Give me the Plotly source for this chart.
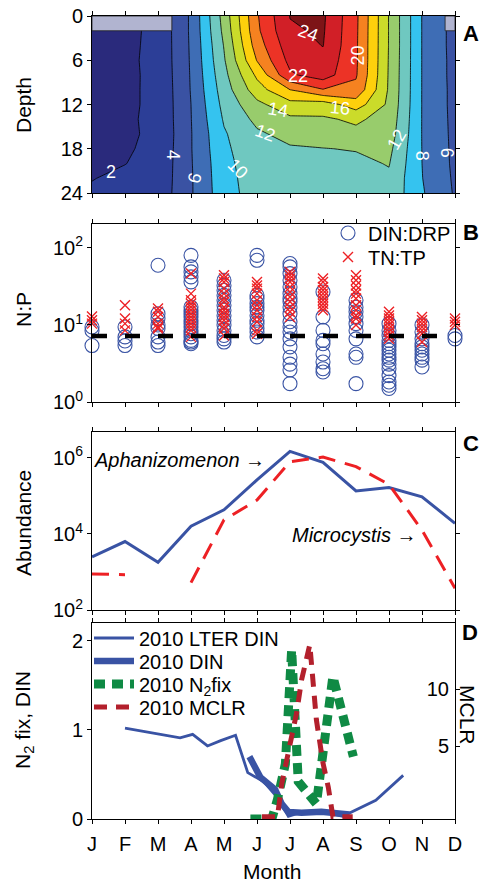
import plotly.graph_objects as go

FONT = "Liberation Sans, Arial, Helvetica, sans-serif"
W, H = 485, 883

# ---------------- common x ----------------
MONTHS = [1, 2, 3, 4, 5, 6, 7, 8, 9, 10, 11, 12]
MONTH_LABELS = ["J", "F", "M", "A", "M", "J", "J", "A", "S", "O", "N", "D"]

# ---------------- Panel A: temperature (depth x month) ----------------
DEPTHS = [0, 2, 4, 6, 8, 10, 12, 14, 16, 18, 20, 22, 24]
TEMP = [
    [0.5, 1.5, 2.4, 6.3, 12.8, 19.8, 24.05, 24.3, 20.4, 13.9, 7.95, 5.3],
    [1.0, 1.6, 2.4, 6.3, 12.5, 19.6, 23.8, 24.2, 20.35, 13.9, 7.95, 5.3],
    [1.2, 1.65, 2.4, 6.25, 12.1, 19.0, 23.2, 24.05, 20.3, 13.9, 7.95, 5.3],
    [1.3, 1.7, 2.4, 6.2, 11.8, 18.1, 22.6, 23.5, 20.3, 13.85, 7.95, 5.35],
    [1.4, 1.7, 2.35, 6.15, 11.4, 16.4, 21.7, 23.0, 20.2, 13.8, 7.95, 5.35],
    [1.4, 1.75, 2.3, 6.1, 11.0, 15.1, 18.0, 19.9, 19.5, 13.75, 7.95, 5.4],
    [1.5, 1.75, 2.3, 6.0, 10.6, 13.5, 15.3, 15.0, 17.0, 13.6, 7.95, 5.4],
    [1.5, 1.8, 2.3, 5.95, 10.2, 12.5, 13.6, 13.75, 14.3, 13.3, 7.95, 5.45],
    [1.6, 1.8, 2.25, 5.9, 9.8, 11.7, 12.6, 12.9, 13.55, 13.0, 7.95, 5.5],
    [1.6, 1.85, 2.35, 5.9, 9.6, 11.4, 11.8, 11.95, 12.1, 12.5, 7.97, 5.55],
    [1.7, 1.97, 2.5, 5.85, 9.4, 11.2, 11.4, 11.7, 11.6, 12.1, 8.0, 5.6],
    [1.95, 2.3, 2.6, 5.8, 9.3, 11.0, 11.2, 11.4, 11.3, 11.7, 8.05, 5.7],
    [2.2, 2.5, 2.7, 5.8, 9.2, 10.9, 11.1, 11.2, 11.1, 11.5, 8.2, 5.8],
]
CONTOUR_START, CONTOUR_END, CONTOUR_STEP = 2, 24, 2
BAND_COLORS = ["#2a2a7c", "#2c3e97", "#3a52a3", "#3e6db5", "#35c3ef", "#6fc8c0",
               "#98cc6c", "#cbdb2a", "#fdd00c", "#f58220", "#ec3326", "#d11f27", "#7d1417"]

ICE_START = [1.0, 11.7]
ICE_END = [3.42, 12.0]
ICE_DEPTH = 2.0

CLABEL_TEXT = ["2", "4", "6", "10", "12", "14", "16", "22", "24", "20", "12", "8", "6"]
CLABEL_MONTH = [1.59, 3.46, 4.12, 5.43, 6.24, 6.65, 8.52, 7.25, 7.55, 9.07, 10.23, 10.99, 11.75]
CLABEL_DEPTH = [21.1, 18.85, 22.0, 20.7, 15.9, 12.7, 12.5, 8.2, 2.35, 5.3, 16.8, 18.9, 18.5]
CLABEL_ANGLE = [0, 90, -75, 45, 20, 10, 5, 0, 20, -90, -60, 90, 90]

# ---------------- Panel B: N:P ratios ----------------
DIN_DRP = [
    [9.4, 8.4, 5.4],
    [9.4, 7.0, 6.2, 5.4],
    [59.5, 14, 12.1, 10, 9, 7, 6, 5.4],
    [80, 56.7, 48.8, 42, 36.2, 17.1, 15.5, 14, 12.7, 11.5, 10.4, 9.4, 8.5, 7.7, 7, 6.3, 6.0, 5.7],
    [38, 32.6, 28.2, 24.2, 20.9, 18, 15.5, 13.3, 11.5, 10, 8.5, 7.3, 6.6, 6],
    [80, 69, 24.2, 22, 18.9, 17, 15.5, 13.3, 11.5, 10.4, 9, 8.1, 7],
    [62.6, 56.7, 46.4, 38, 31, 25.5, 22, 20, 17, 14, 11, 9.4, 8.1, 6.6, 5.2, 3.8, 3.1, 2.6, 1.73],
    [26.8, 12.7, 8.5, 6.3, 5.7, 4.2, 3.3, 2.7, 2.45],
    [20.9, 17, 14.8, 12.7, 10.4, 8.5, 6.6, 4.2, 3.8, 1.73],
    [10.4, 8.5, 7.3, 6.3, 5.7, 5.2, 4.7, 4.2, 3.8, 3.5, 3.1, 2.7, 2.2, 1.82, 1.65, 1.5],
    [10, 8.1, 6.6, 5.7, 5.2, 4.7, 4.2, 3.8, 3.5, 2.85],
    [7.3, 6.6],
]
TN_TP = [
    [12.9, 11.5, 10.4],
    [18, 12.1, 10.4, 8.5],
    [16.3, 14.8, 12.7, 10.4, 9.4, 9],
    [46.4, 25.5, 20.9, 18.9, 17.1, 15.5, 14, 12.7, 11.5, 10.4, 9.4, 8.5, 7],
    [44, 40, 36, 29.6, 25.5, 22, 20, 17, 15.5, 14, 12.7, 11.5, 10, 9, 7.3],
    [36, 32.6, 29.6, 25.5, 20.9, 18, 15.5, 12.7, 11, 8.5, 7.7],
    [48.8, 44, 40, 36, 31, 26.8, 23, 20, 17, 14.8, 12.7],
    [40, 36, 31, 28.2, 25.5, 23, 20.9, 18.9, 17.1, 15.5],
    [44, 38, 32.6, 28.2, 25.5, 22, 18, 15.5, 13.3, 12.1, 10],
    [14.8, 13.3, 12.1, 11, 10, 9, 8.1, 7.3, 6.6],
    [12.7, 11.5, 10.4, 9.4, 8.5, 7.7, 6.0],
    [12.1, 11, 10],
]
REDFIELD = 7.2

# ---------------- Panel C: abundance ----------------
APHANIZOMENON = [2500, 6300, 1800, 16000, 43000, 263000, 1480000, 760000, 135000, 166000, 95000, 19000]
MICROCYSTIS = [890, 850, None, 525, 23400, 77600, 794000, 1050000, 589000, 200000, 12600, 372]

# ---------------- Panel D: N2 fixation, DIN, MCLR ----------------
LTER_DIN_X = [2.0, 3.67, 4.05, 4.5, 4.9, 5.35, 5.72, 6.2, 6.6, 6.95, 7.3, 7.8, 8.6, 9.3, 9.6, 10.43]
LTER_DIN_Y = [1.02, 0.91, 0.95, 0.82, 0.88, 0.94, 0.52, 0.42, 0.25, 0.03, 0.07, 0.09, 0.03, 0.15, 0.21, 0.49]
DIN_X = [5.77, 6.1, 6.55, 6.75, 6.95, 7.35, 7.95, 8.3, 8.8]
DIN_Y = [0.7, 0.47, 0.33, 0.17, 0.08, 0.07, 0.08, 0.06, 0.05]
N2FIX_X = [5.8, 6.45, 6.62, 6.86, 7.05, 7.25, 7.8, 8.3, 8.92]
N2FIX_Y = [0.0, 0.0, 0.22, 0.62, 1.9, 0.42, 0.17, 1.6, 0.7]
MCLR_X = [6.15, 6.62, 6.75, 6.95, 7.2, 7.35, 7.6, 7.8, 8.0, 8.16, 8.3, 8.9]
MCLR_Y = [-1.2, -1.2, 1.7, 4.4, 7.9, 10.8, 13.9, 7.3, 3.5, 1.4, -1.2, -1.2]
MCLR_RANGE = [-1.4, 15.8]
MCLR_TICKS = [5, 10]

BLUE = "#3953a4"
RED = "#ed2024"
GREEN = "#0f8a44"
DARKRED = "#b3202c"

# ---------------- geometry ----------------
X_LEFT, X_RIGHT = 92, 455
PANEL_PX = {"A": (16, 193), "B": (224, 402), "C": (432, 610), "D": (623, 819)}


def ydom(p):
    top, bot = PANEL_PX[p]
    return [1 - bot / H, 1 - top / H]


def px(xp, yp):
    return xp / W, 1 - yp / H


XDOM = [X_LEFT / W, X_RIGHT / W]

fig = go.Figure()

# ---- A: filled contours ----
n = len(BAND_COLORS)
cscale = []
for k, c in enumerate(BAND_COLORS):
    lo = max(0.0, (k - 0.5) / (n - 1))
    hi = min(1.0, (k + 0.5) / (n - 1))
    cscale += [[lo, c], [hi, c]]

fig.add_trace(go.Contour(
    x=MONTHS, y=DEPTHS, z=TEMP, colorscale=cscale, showscale=False,
    autocontour=False,
    contours=dict(start=CONTOUR_START, end=CONTOUR_END, size=CONTOUR_STEP,
                  coloring="fill", showlines=True),
    line=dict(color="black", width=0.8, smoothing=0),
    xaxis="x", yaxis="y", hoverinfo="skip", showlegend=False))

for s, e in zip(ICE_START, ICE_END):
    fig.add_trace(go.Scatter(
        x=[s, e, e, s, s], y=[0, 0, ICE_DEPTH, ICE_DEPTH, 0], mode="lines",
        fill="toself", fillcolor="#b1b4d0", line=dict(color="#222", width=0.8),
        xaxis="x", yaxis="y", showlegend=False, hoverinfo="skip"))

# ---- B: N:P scatter ----
dx, dy, tx, ty = [], [], [], []
for m, vals in zip(MONTHS, DIN_DRP):
    dx += [m] * len(vals)
    dy += vals
for m, vals in zip(MONTHS, TN_TP):
    tx += [m] * len(vals)
    ty += vals

fig.add_trace(go.Scatter(
    x=dx, y=dy, mode="markers", name="DIN:DRP",
    marker=dict(symbol="circle-open", size=14, color=BLUE, line=dict(width=1.1, color=BLUE)),
    xaxis="x2", yaxis="y2", cliponaxis=False, legend="legend"))
fig.add_trace(go.Scatter(
    x=tx, y=ty, mode="markers", name="TN:TP",
    marker=dict(symbol="x-thin", size=10, color=RED, line=dict(width=1.4, color=RED)),
    xaxis="x2", yaxis="y2", cliponaxis=False, legend="legend2"))
fig.add_trace(go.Scatter(
    x=MONTHS, y=[REDFIELD] * len(MONTHS), mode="lines",
    line=dict(color="black", width=4.5, dash="15px,18px"),
    xaxis="x2", yaxis="y2", showlegend=False, hoverinfo="skip"))

# ---- C: abundance ----
fig.add_trace(go.Scatter(
    x=MONTHS, y=APHANIZOMENON, mode="lines", line=dict(color=BLUE, width=3),
    xaxis="x3", yaxis="y3", showlegend=False))
fig.add_trace(go.Scatter(
    x=MONTHS, y=MICROCYSTIS, mode="lines", connectgaps=False,
    line=dict(color=RED, width=3, dash="17px,10px"),
    xaxis="x3", yaxis="y3", showlegend=False))

# ---- D ----
fig.add_trace(go.Scatter(
    x=LTER_DIN_X, y=LTER_DIN_Y, mode="lines", name="2010 LTER DIN",
    line=dict(color=BLUE, width=2.8), xaxis="x4", yaxis="y4", legend="legend3"))
fig.add_trace(go.Scatter(
    x=DIN_X, y=DIN_Y, mode="lines", name="2010 DIN",
    line=dict(color=BLUE, width=6.5), xaxis="x4", yaxis="y4", legend="legend4"))
fig.add_trace(go.Scatter(
    x=N2FIX_X, y=N2FIX_Y, mode="lines", name="2010 N<sub>2</sub>fix",
    line=dict(color=GREEN, width=9, dash="11px,7px"), xaxis="x4", yaxis="y4",
    legend="legend5", cliponaxis=False))
fig.add_trace(go.Scatter(
    x=MCLR_X, y=MCLR_Y, mode="lines", name="2010 MCLR",
    line=dict(color=DARKRED, width=5, dash="13px,9px"), xaxis="x4", yaxis="y5",
    legend="legend6", cliponaxis=False))
# invisible copy so the right-hand MCLR tick axis is drawn
fig.add_trace(go.Scatter(
    x=MCLR_X, y=MCLR_Y, mode="lines", line=dict(width=0, color="rgba(0,0,0,0)"),
    xaxis="x4", yaxis="y6", showlegend=False, hoverinfo="skip"))

# ---------------- axes ----------------
tickfont = dict(family=FONT, size=20, color="black")
base = dict(showline=True, linecolor="black", linewidth=1, ticks="outside", ticklen=4,
            tickwidth=1, tickcolor="black", showgrid=False, zeroline=False, tickfont=tickfont,
            automargin=False)

for i, p in zip(["", "2", "3", "4"], ["A", "B", "C", "D"]):
    fig.layout["xaxis" + i] = dict(
        base, domain=XDOM, range=[1, 12], tickvals=MONTHS, ticktext=MONTH_LABELS,
        showticklabels=(p == "D"), anchor="y" + i, mirror="ticks")
fig.layout["xaxis4"]["ticklabelstandoff"] = 3

fig.layout["yaxis"] = dict(base, domain=ydom("A"), range=[24, 0], tickvals=[0, 6, 12, 18, 24],
                           anchor="x", mirror="ticks")
fig.layout["yaxis2"] = dict(base, domain=ydom("B"), type="log", range=[0, 2.31],
                            tickvals=[1, 10, 100],
                            ticktext=["10<sup>0</sup>", "10<sup>1</sup>", "10<sup>2</sup>"],
                            anchor="x2", mirror="ticks")
fig.layout["yaxis3"] = dict(base, domain=ydom("C"), type="log", range=[2, 6.68],
                            tickvals=[1e2, 1e4, 1e6],
                            ticktext=["10<sup>2</sup>", "10<sup>4</sup>", "10<sup>6</sup>"],
                            anchor="x3", mirror="ticks")
fig.layout["yaxis4"] = dict(base, domain=ydom("D"), range=[0, 2.2], tickvals=[0, 1, 2],
                            anchor="x4", mirror=True)
# MCLR labels sit just inside the right frame (as in the reference)
fig.layout["yaxis5"] = dict(base, range=MCLR_RANGE, tickvals=MCLR_TICKS, overlaying="y4",
                            side="left", anchor="free", position=449 / W,
                            showline=False, ticks="")
# MCLR tick marks on the right frame
fig.layout["yaxis6"] = dict(base, range=MCLR_RANGE, tickvals=MCLR_TICKS, overlaying="y4",
                            side="right", anchor="x4", showticklabels=False, showline=False)

# ---------------- annotations ----------------
ann = []
for t, m, d, a in zip(CLABEL_TEXT, CLABEL_MONTH, CLABEL_DEPTH, CLABEL_ANGLE):
    ann.append(dict(x=m, y=d, xref="x", yref="y", text=t, showarrow=False, textangle=a,
                    xanchor="center", yanchor="middle",
                    font=dict(family=FONT, size=18, color="white")))

for letter, (xp, yp) in zip("ABCD", [(471, 33), (471, 233), (471, 443), (470, 632)]):
    x, y = px(xp, yp)
    ann.append(dict(x=x, y=y, xref="paper", yref="paper", text="<b>%s</b>" % letter,
                    xanchor="center", yanchor="middle",
                    showarrow=False, font=dict(family=FONT, size=22, color="black")))

for txt, (xp, yp), ang in [("Depth", (23, 105), -90), ("N:P", (23, 310), -90),
                           ("Abundance", (23, 523), -90),
                           ("N<sub>2</sub> fix, DIN", (24, 720), -90),
                           ("MCLR", (468, 715), 90), ("Month", (272, 871), 0)]:
    x, y = px(xp, yp)
    ann.append(dict(x=x, y=y, xref="paper", yref="paper", text=txt, textangle=ang,
                    xanchor="center", yanchor="middle",
                    showarrow=False, font=dict(family=FONT, size=21, color="black")))

for txt, (xp, yp) in [("<i>Aphanizomenon</i> \u2192", (267, 460)),
                      ("<i>Microcystis</i> \u2192", (418, 535))]:
    x, y = px(xp, yp)
    ann.append(dict(x=x, y=y, xref="paper", yref="paper", text=txt, xanchor="right",
                    yanchor="middle",
                    showarrow=False, font=dict(family=FONT, size=20, color="black")))

# one legend box per entry so rows can sit exactly where the reference has them
legend_boxes = {}
for name, (xp, yp, iw) in {"legend": (328, 233, 30), "legend2": (328, 257, 30),
                           "legend3": (89, 638, 40), "legend4": (89, 661, 40),
                           "legend5": (89, 684, 40), "legend6": (89, 707, 40)}.items():
    x, y = px(xp, yp)
    legend_boxes[name] = dict(x=x, y=y, xanchor="left", yanchor="middle",
                              bgcolor="rgba(0,0,0,0)", font=dict(family=FONT, size=20),
                              itemwidth=iw, tracegroupgap=0)

fig.update_layout(
    width=W, height=H, margin=dict(l=0, r=0, t=0, b=0, autoexpand=False),
    paper_bgcolor="white", plot_bgcolor="white",
    font=dict(family=FONT, size=20, color="black"),
    annotations=ann, **legend_boxes)

fig.write_html("out.html",
               post_script="document.body.style.margin='0';document.body.style.overflow='hidden';")
